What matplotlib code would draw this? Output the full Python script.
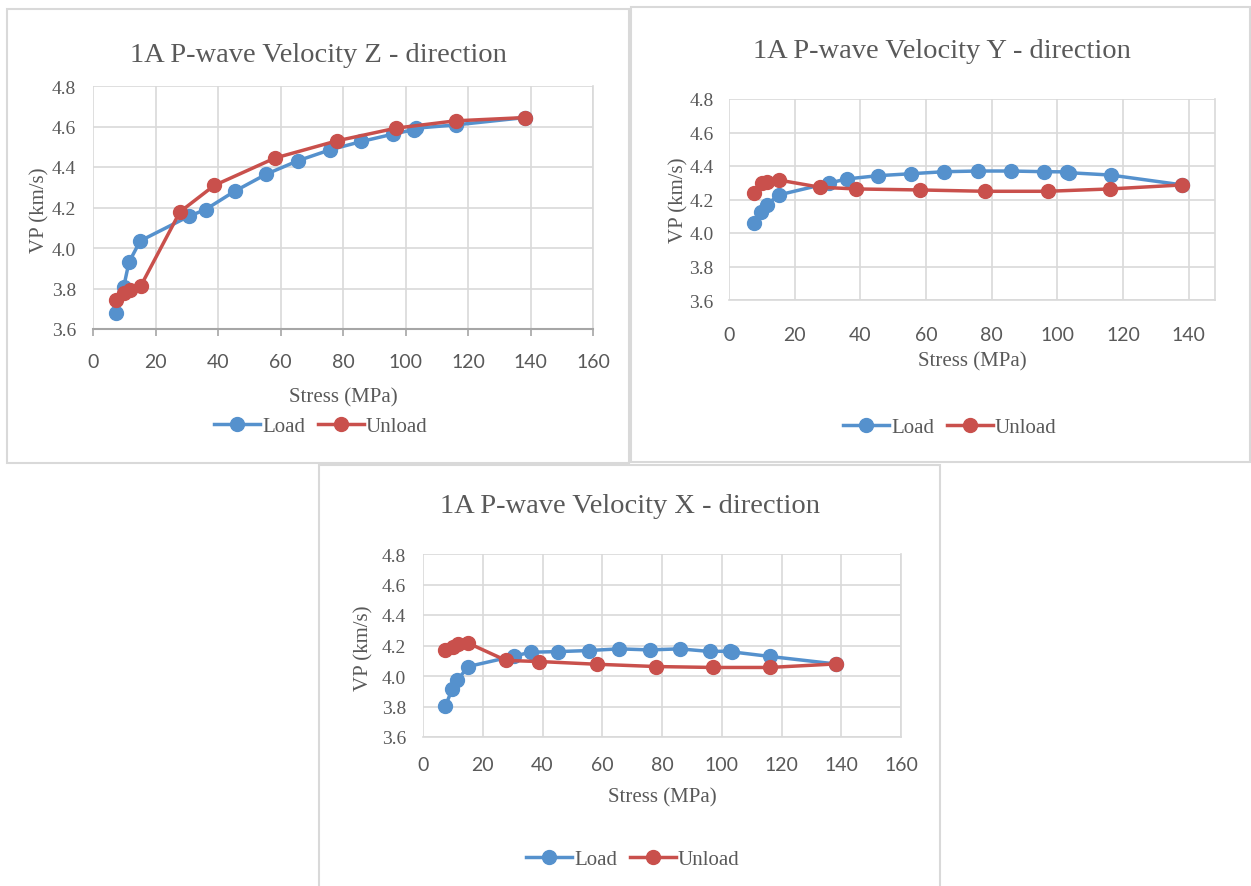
import numpy as np
import matplotlib
matplotlib.use("Agg")
from matplotlib import pyplot as plt
from matplotlib.patches import Rectangle


# stress steps (MPa), same for all three directions
load_stress = [7.5, 9.8, 11.5, 15.1, 30.6, 36.0, 45.3, 55.5, 65.6, 75.9, 85.9, 95.9, 102.8, 103.5, 116.2, 138.1]
unload_stress = [138.1, 116.0, 97.0, 78.0, 58.2, 38.8, 27.8, 15.2, 11.7, 10.0, 7.5]

# Z direction
z_load = [3.68, 3.806, 3.929, 4.035, 4.156, 4.19, 4.28, 4.365, 4.431, 4.485, 4.526, 4.562, 4.585, 4.592, 4.608, 4.644]
z_unload = [4.644, 4.628, 4.592, 4.529, 4.444, 4.309, 4.178, 3.81, 3.792, 3.778, 3.745]

# Y direction
y_load = [4.059, 4.128, 4.168, 4.227, 4.299, 4.323, 4.342, 4.354, 4.366, 4.370, 4.370, 4.366, 4.365, 4.360, 4.346, 4.287]
y_unload = [4.287, 4.263, 4.249, 4.249, 4.257, 4.263, 4.273, 4.316, 4.306, 4.297, 4.238]

# X direction
x_load = [3.804, 3.915, 3.972, 4.062, 4.131, 4.156, 4.16, 4.167, 4.178, 4.171, 4.178, 4.161, 4.163, 4.158, 4.128, 4.079]
x_unload = [4.079, 4.056, 4.056, 4.062, 4.077, 4.095, 4.102, 4.215, 4.21, 4.193, 4.171]

y_ticks = [3.6, 3.8, 4.0, 4.2, 4.4, 4.6, 4.8]

BLUE = "#5591cd"
RED = "#c9504c"
GRID = "#d9d9d9"
TXT = "#595959"
SERIF = ["Liberation Serif", "DejaVu Serif"]
SANS = ["Liberation Sans Narrow", "Lato", "DejaVu Sans"]

W, H = 1251, 887
fig = plt.figure(figsize=(W / 100, H / 100), dpi=100)


def fx(px):
    return px / W


def fy(py):
    return 1 - py / H


def panel(frame, axbox, xmax, xticks, title, title_pos, xlab_pos, ylab_pos, leg_pos,
          load, unload, xpad, ypad, dark_axis=False):
    # light grey frame around each chart
    x0, y0, x1, y1 = frame
    fig.patches.append(Rectangle((fx(x0), fy(y1)), fx(x1 - x0), (y1 - y0) / H,
                                 transform=fig.transFigure, fill=False,
                                 edgecolor=GRID, linewidth=1.5))
    l, t, r, b = axbox
    ax = fig.add_axes([fx(l), fy(b), fx(r - l), (b - t) / H])
    ax.plot(load_stress, load, "-o", color=BLUE, lw=2.5, ms=10, label="Load", zorder=3)
    ax.plot(unload_stress, unload, "-o", color=RED, lw=2.5, ms=10, label="Unload", zorder=4)
    ax.set_xlim(0, xmax)
    ax.set_ylim(3.6, 4.8)
    ax.set_xticks(xticks)
    ax.set_yticks(y_ticks)
    ax.set_yticklabels([f"{v:.1f}" for v in y_ticks], family=SERIF, fontsize=14, color=TXT)
    ax.set_xticklabels([str(v) for v in xticks], family=SANS, fontsize=14, color=TXT)
    ax.grid(True, color=GRID, lw=1.2)
    ax.set_axisbelow(True)
    for s in ax.spines.values():
        s.set_visible(False)
    ax.spines["right"].set_visible(True)
    ax.spines["right"].set_color(GRID)
    ax.spines["right"].set_linewidth(1.2)
    ax.spines["bottom"].set_visible(True)
    if dark_axis:
        ax.spines["bottom"].set_color("#a6a6a6")
        ax.spines["bottom"].set_linewidth(1.5)
        ax.tick_params(axis="x", length=5, width=1.2, color="#a6a6a6", direction="out", pad=xpad)
    else:
        ax.spines["bottom"].set_color(GRID)
        ax.spines["bottom"].set_linewidth(1.2)
        ax.tick_params(axis="x", length=0, pad=xpad)
    ax.tick_params(axis="y", length=0, pad=ypad)

    fig.text(fx(title_pos[0]), fy(title_pos[1]), title, family=SERIF, fontsize=20.5,
             color=TXT, ha="center", va="center")
    fig.text(fx(xlab_pos[0]), fy(xlab_pos[1]), "Stress (MPa)", family=SERIF, fontsize=15,
             color=TXT, ha="center", va="center")
    fig.text(fx(ylab_pos[0]), fy(ylab_pos[1]), "VP (km/s)", family=SERIF, fontsize=15,
             color=TXT, ha="center", va="center", rotation=90)
    fig.legend(handles=ax.get_lines(), loc="center", bbox_to_anchor=(fx(leg_pos[0]), fy(leg_pos[1])),
               ncol=2, frameon=False, prop={"family": SERIF, "size": 15}, labelcolor=TXT,
               handlelength=2.2, handletextpad=0.1, columnspacing=0.6)
    return ax


panel((7, 10, 629, 464), (93, 87, 593, 330), 160, list(range(0, 161, 20)),
      "1A P-wave Velocity Z - direction", (318, 55), (343, 398), (40, 210), (321, 427),
      z_load, z_unload, xpad=12, ypad=12, dark_axis=True)

panel((631, 8, 1250, 463), (729, 100, 1215, 301), 148, list(range(0, 141, 20)),
      "1A P-wave Velocity Y - direction", (942, 51), (972, 362), (679, 200), (950, 428),
      y_load, y_unload, xpad=19, ypad=11)

panel((319, 466, 940, 890), (423, 555, 901, 738), 160, list(range(0, 161, 20)),
      "1A P-wave Velocity X - direction", (630, 507), (662, 798), (364, 648), (633, 860),
      x_load, x_unload, xpad=14, ypad=12)

fig.savefig("out.png", dpi=100, facecolor="white")
